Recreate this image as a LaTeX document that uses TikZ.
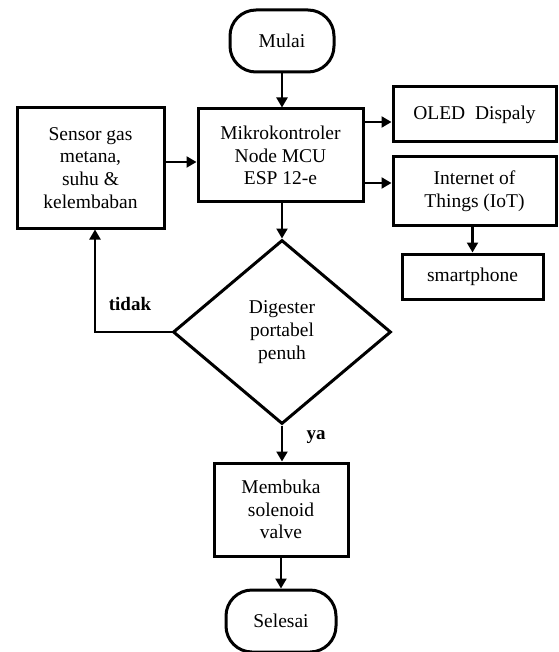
\documentclass[tikz,border=0pt]{standalone}
\usepackage{fontspec}
\setmainfont{Liberation Serif}
\usetikzlibrary{shapes.geometric,arrows.meta,calc}
\tikzset{
  box/.style={draw=black, line width=3pt, rectangle, inner sep=0pt, align=center,
    font=\fontsize{19.5pt}{22.8pt}\selectfont},
  term/.style={box, rounded corners=26pt},
  dec/.style={draw=black, line width=3pt, diamond, inner sep=0pt, align=center,
    font=\fontsize{19.5pt}{22.8pt}\selectfont},
  arr/.style={line width=2.2pt, -{Triangle[width=11pt,length=10pt]}},
  lbl/.style={font=\fontsize{19pt}{22pt}\selectfont\bfseries, inner sep=0pt}
}
\begin{document}
\begin{tikzpicture}[x=1pt,y=-1pt]
\useasboundingbox (0,0) rectangle (558,652);
\node[term, minimum width=104pt, minimum height=62pt] (mulai) at (282,41) {Mulai};
\node[box, minimum width=165pt, minimum height=93pt] (mikro) at (280.5,155.5) {Mikrokontroler\\Node MCU\\ESP 12-e};
\node[box, minimum width=147pt, minimum height=120pt] (sensor) at (90.5,168) {Sensor gas\\metana,\\suhu \&\\kelembaban};
\node[box, minimum width=163pt, minimum height=55pt] (oled) at (474.5,114.5) {OLED\ \ Dispaly};
\node[box, minimum width=163pt, minimum height=68pt] (iot) at (474.5,191) {Internet of\\Things (IoT)};
\node[box, minimum width=141pt, minimum height=45pt] (sp) at (472.5,276.5) {smartphone};
\node[dec, minimum width=218pt, minimum height=184pt] (dig) at (282,332) {Digester\\portabel\\penuh};
\node[box, minimum width=134pt, minimum height=93pt] (buka) at (281,509.5) {Membuka\\solenoid\\valve};
\node[term, minimum width=110pt, minimum height=62pt] (selesai) at (281,621) {Selesai};

\draw[arr] (mulai.south) -- (mulai.south |- mikro.north);
\coordinate (s1) at ([yshift=6pt]sensor.east);
\draw[arr] (s1) -- (mikro.west |- s1);
\coordinate (o1) at ([yshift=-7.5pt]oled.west);
\draw[arr] (mikro.east |- o1) -- (o1);
\coordinate (i1) at ([yshift=8pt]iot.west);
\draw[arr] (mikro.east |- i1) -- (i1);
\draw[arr] (sp.north |- iot.south) -- (sp.north);
\draw[arr] (mikro.south -| dig.north) -- (dig.north);
\coordinate (l1) at ([xshift=4.5pt]sensor.south);
\draw[arr] (dig.west) -| (l1);
\draw[arr] (dig.south) -- (dig.south |- buka.north);
\draw[arr] (buka.south) -- (buka.south |- selesai.north);

\node[lbl] (tidak) at (130,304) {tidak};
\node[lbl] (ya) at (316,437) {ya};
\end{tikzpicture}
\end{document}
